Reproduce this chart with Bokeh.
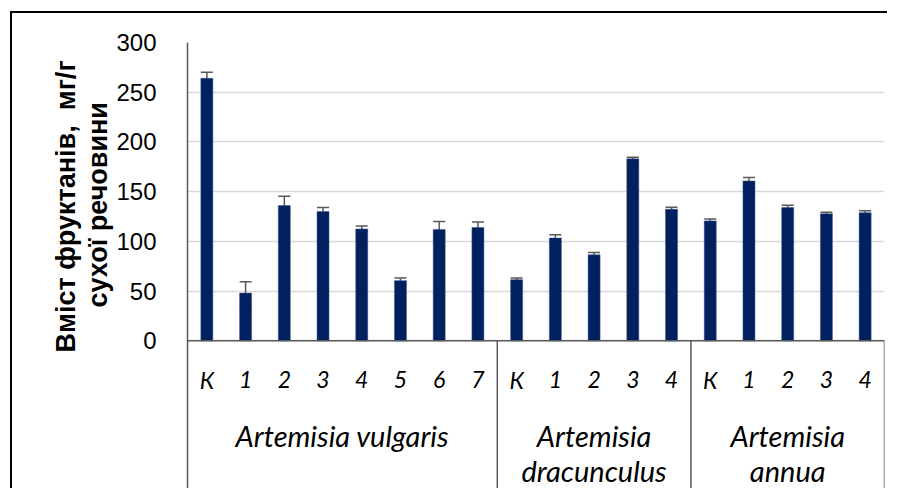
from bokeh.plotting import figure
from bokeh.models import (FactorRange, Range1d, FixedTicker, Whisker, ColumnDataSource,
                          Span, Title)
from bokeh.core.properties import value
from bokeh.embed import file_html
from bokeh.resources import INLINE

# ---- data ----
groups = ["Artemisia vulgaris", "Artemisia dracunculus", "Artemisia annua"]
group_line1 = ["Artemisia vulgaris", "Artemisia", "Artemisia"]
group_line2 = ["", "dracunculus", "annua"]
subs_vulgaris = ["К", "1", "2", "3", "4", "5", "6", "7"]
subs_dracunculus = ["К", "1", "2", "3", "4"]
subs_annua = ["К", "1", "2", "3", "4"]
vals_vulgaris = [264, 48, 136, 130, 112.5, 60.5, 112, 114]
vals_dracunculus = [61.5, 103.4, 86.5, 183, 132.4]
vals_annua = [120.6, 160.8, 134, 127.7, 128.9]
err_vulgaris = [6, 11.5, 9.5, 4, 3, 2.7, 8, 5.5]
err_dracunculus = [1.7, 3.4, 2.4, 1.7, 2]
err_annua = [2, 3.4, 2.3, 1.7, 1.8]
y_ticks = [0, 50, 100, 150, 200, 250, 300]
y_title = ["Вміст фруктанів,\u00a0 мг/г", "сухої речовини"]

subs = [subs_vulgaris, subs_dracunculus, subs_annua]
vals = [vals_vulgaris, vals_dracunculus, vals_annua]
errs = [err_vulgaris, err_dracunculus, err_annua]

factors, tops, lows, ups, sublabels = [], [], [], [], []
for g, s, v, e in zip(groups, subs, vals, errs):
    for si, vi, ei in zip(s, v, e):
        factors.append((g, si))
        tops.append(vi)
        lows.append(vi - ei)
        ups.append(vi + ei)
        sublabels.append(si)

# ---- layout constants (pixels -> data units) ----
px_per_unit = 297 / 300.0
y_bottom = -149 / px_per_unit
sep_bottom = -148 / px_per_unit

p = figure(width=880, height=475, output_backend="svg", toolbar_location=None,
           x_range=FactorRange(*factors, factor_padding=0, group_padding=0,
                               subgroup_padding=0, range_padding=0),
           y_range=Range1d(y_bottom, 300),
           x_axis_location=None, min_border_left=175, min_border_right=10,
           min_border_top=29, min_border_bottom=0)
p.styles = {"position": "absolute", "left": "10px", "top": "11px",
            "box-sizing": "content-box", "width": "880px", "height": "475px",
            "border-top": "2px solid #000000", "border-left": "2px solid #000000",
            "clip-path": "inset(0px 5px 0px 0px)"}
p.outline_line_color = None
p.xgrid.grid_line_color = None
p.ygrid.grid_line_color = "#d9d9d9"
p.ygrid.grid_line_width = 1.5
p.yaxis.ticker = FixedTicker(ticks=y_ticks)
p.ygrid.ticker = FixedTicker(ticks=y_ticks)
p.yaxis.axis_line_color = "#595959"
p.yaxis.axis_line_width = 1.5
p.yaxis.major_tick_line_color = None
p.yaxis.minor_tick_line_color = None
p.yaxis.major_label_standoff = 25
p.yaxis.major_label_text_font = "Liberation Sans"
p.yaxis.major_label_text_font_size = "24px"
p.yaxis.major_label_text_color = "#000000"

src = ColumnDataSource(dict(x=factors, top=tops, lower=lows, upper=ups, sub=sublabels))
p.vbar(x="x", top="top", width=0.31, source=src, fill_color="#00205f",
       line_color="#3b5488", line_width=0.5)
w = Whisker(base="x", lower="lower", upper="upper", source=src,
            line_color="#595959", line_width=1.5)
for h in (w.upper_head, w.lower_head):
    h.size = 12
    h.line_color = "#595959"
    h.line_width = 1.5
p.add_layout(w)

p.add_layout(Span(location=0, dimension="width", line_color="#595959", line_width=1.5))

# group separators
bounds = []
c = 0
for s in subs:
    c += len(s)
    bounds.append(c)
p.segment(x0=bounds, x1=bounds, y0=[0] * len(bounds), y1=[sep_bottom] * len(bounds),
          line_color="#595959", line_width=1.5)

# category labels
p.text(x="x", y=-38.5 / px_per_unit, text="sub", source=src, text_font=value("Lato"),
       text_font_style="italic", text_font_size="23px", text_align="center",
       text_baseline="middle", text_color="#000000")
p.text(x=groups, y=[-94 / px_per_unit] * 3, text=group_line1, text_font=value("Lato"),
       text_font_style="italic", text_font_size="29px", text_align="center",
       text_baseline="middle", text_color="#000000")
p.text(x=groups, y=[-129 / px_per_unit] * 3, text=group_line2, text_font=value("Lato"),
       text_font_style="italic", text_font_size="29px", text_align="center",
       text_baseline="middle", text_color="#000000")

# y title as two side titles (nearest line first)
for txt, off in zip(reversed(y_title), [183, 138]):
    t = Title(text=txt, align="left", offset=off, vertical_align="middle",
              text_font="Liberation Sans", text_font_style="bold",
              text_font_size="27px", text_color="#000000", standoff=0)
    p.add_layout(t, "left")

open("out.html", "w").write(file_html(p, INLINE))
